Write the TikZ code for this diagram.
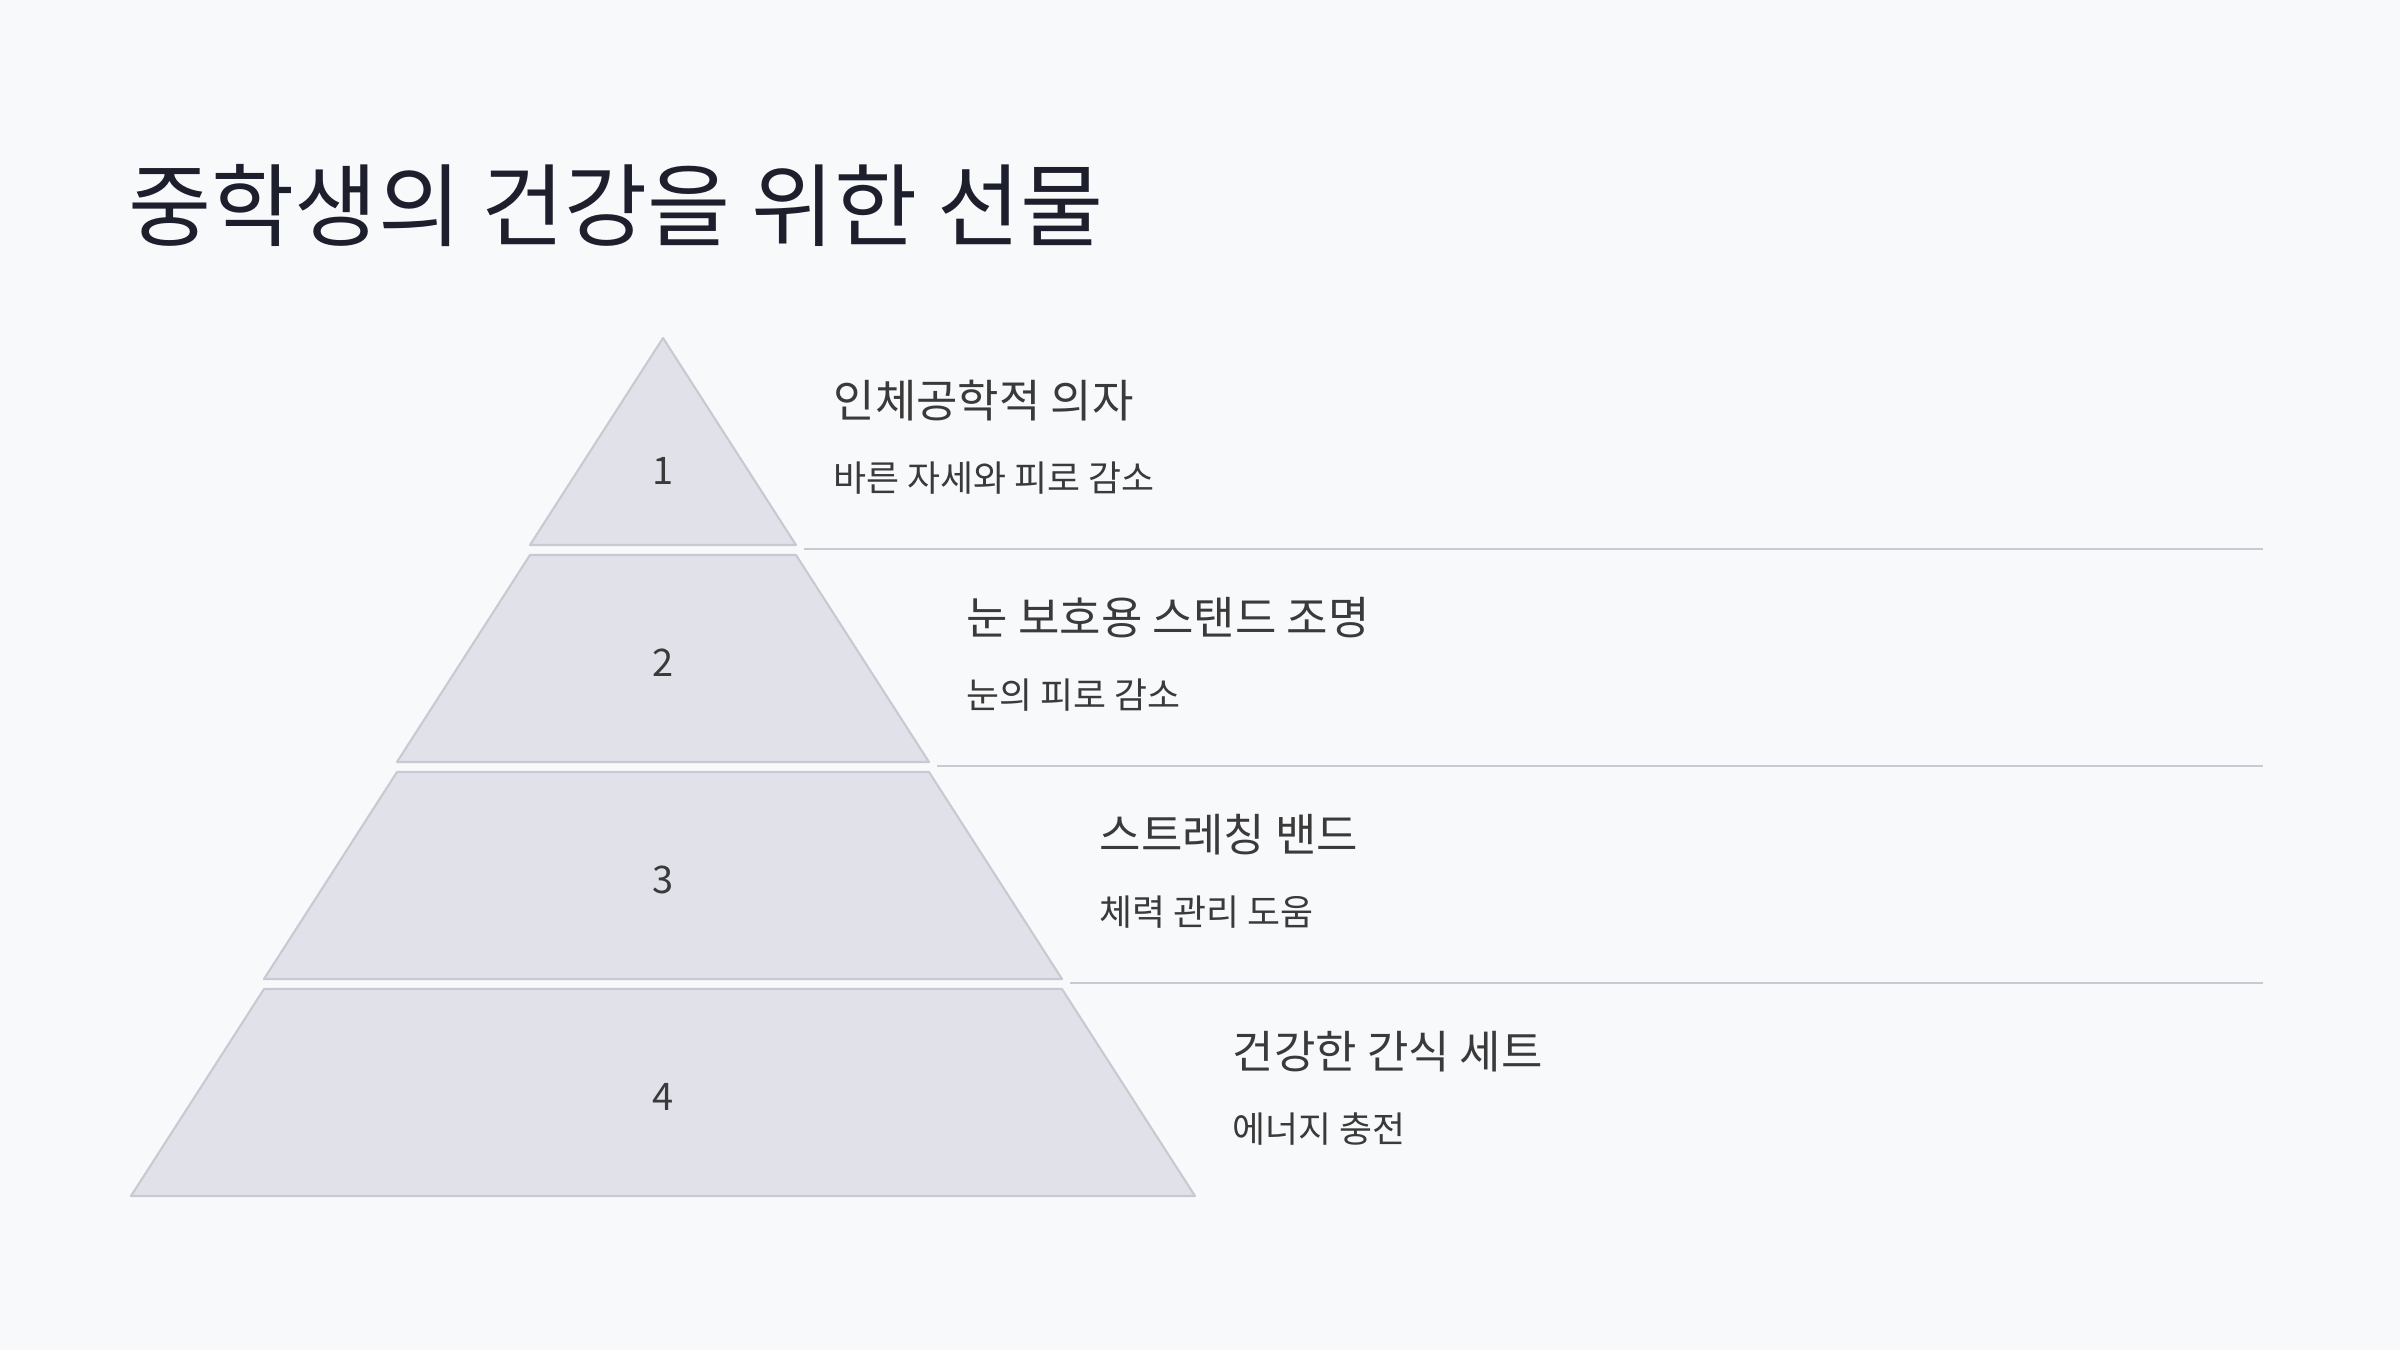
\documentclass[tikz,border=0pt]{standalone}
\usepackage{fontspec}
\setmainfont{Noto Sans CJK KR}
\usetikzlibrary{positioning}
\definecolor{bgcol}{HTML}{F8F9FB}
\definecolor{tierfill}{HTML}{E1E2E9}
\definecolor{tierline}{HTML}{C8C9D2}
\definecolor{titlecol}{HTML}{1E1F2C}
\definecolor{textcol}{HTML}{3A3A3A}

\begin{document}
\begin{tikzpicture}[x=0.01cm,y=-0.01cm,
	tier/.style={fill=tierfill,draw=tierline,line width=0.6pt,line join=round},
	sepline/.style={draw=tierline,line width=0.6pt},
	tiernum/.style={font=\fontsize{10.8}{12}\selectfont,text=textcol},
	itemhead/.style={anchor=west,inner sep=0pt,font=\fontsize{12.8}{14}\selectfont,text=textcol},
	itemdesc/.style={anchor=west,inner sep=0pt,font=\fontsize{10.2}{12}\selectfont,text=textcol}]
	\fill[bgcol] (0,0) rectangle (2400,1350);
	\useasboundingbox (0,0) rectangle (2400,1350);
	\node[anchor=west,inner sep=0pt,font=\fontsize{25.7}{28}\selectfont,text=titlecol](title) at (128,206){중학생의 건강을 위한 선물};
	\foreach \hd/\ds [count=\n] in {인체공학적 의자/바른 자세와 피로 감소,눈 보호용 스탠드 조명/눈의 피로 감소,스트레칭 밴드/체력 관리 도움,건강한 간식 세트/에너지 충전}{
		\pgfmathsetmacro\ty{338+(\n-1)*217}
		\pgfmathsetmacro\by{\ty+207}
		\pgfmathsetmacro\tw{(\n-1)*133}
		\pgfmathsetmacro\bw{\n*133}
		\pgfmathsetmacro\ny{\n==1 ? \ty+133 : \ty+108}
		\draw[tier] (663-\tw,\ty) -- (663+\tw,\ty) -- (663+\bw,\by) -- (663-\bw,\by) -- cycle;
		\node[tiernum](N\n) at (663,\ny){\n};
		\node[itemhead](H\n) at (663+\bw+37,\ty+63){\hd};
		\node[itemdesc](D\n) at (663+\bw+37,\ty+140){\ds};
		\ifnum\n<4
			\coordinate (L\n) at (663+\bw+8,\by+4);
			\coordinate (R\n) at (2263,\by+4);
			\draw[sepline] (L\n) -- (R\n);
		\fi
	}
\end{tikzpicture}
\end{document}
